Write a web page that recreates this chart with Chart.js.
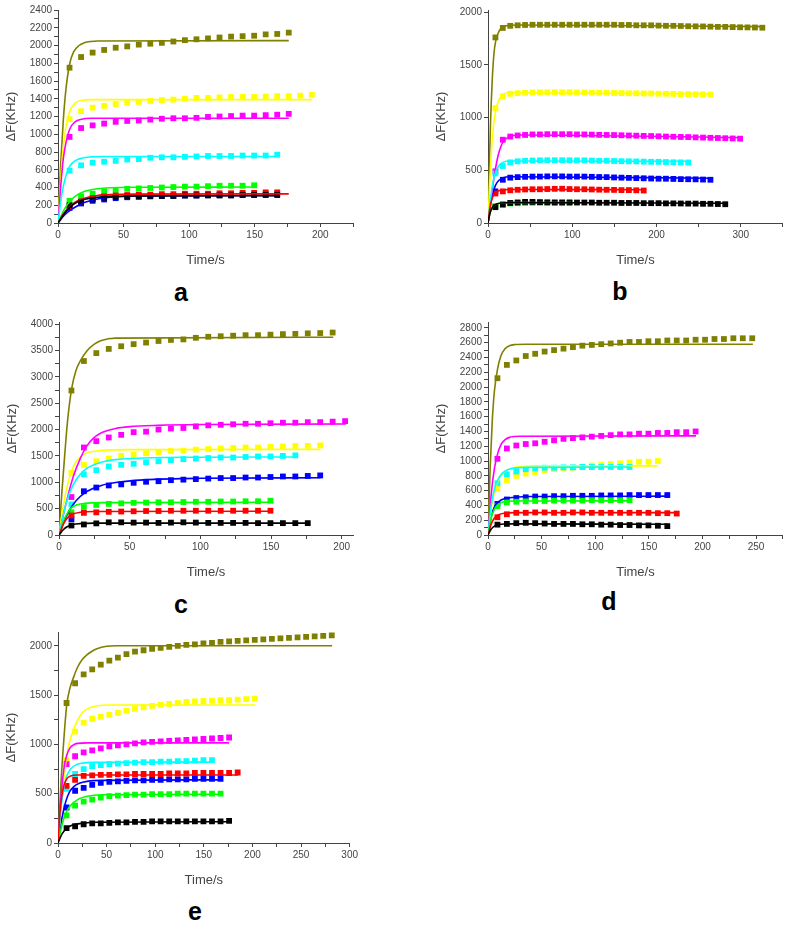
<!DOCTYPE html>
<html><head><meta charset="utf-8">
<script src="https://cdn.jsdelivr.net/npm/chart.js@4.4.1/dist/chart.umd.min.js"></script>
<style>
body{margin:0;background:#fff;width:787px;height:931px;position:relative;overflow:hidden;font-family:"Liberation Sans",Arial,sans-serif}
canvas{position:absolute}
.lbl{position:absolute;font:bold 25px "Liberation Sans",Arial,sans-serif;color:#000;transform:translate(-50%,-50%);line-height:1}
</style></head>
<body>
<canvas id="ca" width="363" height="266" style="left:0px;top:2px"></canvas>
<canvas id="cb" width="357" height="266" style="left:430px;top:2px"></canvas>
<canvas id="cc" width="362" height="266" style="left:1px;top:314px"></canvas>
<canvas id="cd" width="357" height="266" style="left:430px;top:314px"></canvas>
<canvas id="ce" width="360" height="264" style="left:0px;top:624px"></canvas>
<div class="lbl" style="left:181px;top:292px">a</div>
<div class="lbl" style="left:620px;top:291px">b</div>
<div class="lbl" style="left:181px;top:604px">c</div>
<div class="lbl" style="left:609px;top:601px">d</div>
<div class="lbl" style="left:195px;top:911px">e</div>
<script>
// sampling times (s) of measured points
const sampleTimes = [8.8,17.6,26.4,35.2,44,52.8,61.6,70.4,79.2,88,96.8,105.6,114.4,123.2,132,140.8,149.6,158.4,167.2,176,184.8,193.6,202.4,211.2,220,228.8,237.6,246.4,255.2,264,272.8,281.6,290.4,299.2,308,316.8,325.6];
const seriesColors = ['#000000','#ff0000','#00ff00','#00ffff','#ff00ff','#ffff00','#808000','#0000ff'];

// ---------- panel a ----------
const aBlack   = [200,240,265,285,295,300,300,305,305,305,310,310,310,310,310,315,315,315,315];
const aRed     = [190,240,280,300,310,315,320,320,325,325,330,330,330,335,335,340,340,345,345];
const aGreen   = [250,300,330,355,370,385,390,395,400,405,410,410,415,420,420,420,425];
const aCyan    = [590,650,680,690,700,715,720,735,740,740,745,750,755,755,755,760,760,760,770];
const aMagenta = [970,1070,1100,1120,1140,1150,1155,1165,1175,1180,1180,1185,1195,1200,1205,1210,1210,1215,1220,1230];
const aYellow  = [1170,1260,1300,1320,1340,1355,1365,1375,1385,1390,1400,1410,1410,1415,1420,1420,1420,1425,1430,1430,1435,1445];
const aOlive   = [1750,1870,1920,1950,1975,1990,2010,2020,2030,2045,2060,2070,2080,2090,2100,2105,2110,2125,2130,2145];
const aBlue    = [170,220,250,265,280,290,295,300,305,305,310,310,315,315,320,320,320,325,325];
const aBlackFit   = [[0,0],[5,110],[10,190],[15,240],[20,265],[30,290],[40,300],[60,305],[167,308]];
const aRedFit     = [[0,0],[5,120],[10,200],[15,250],[20,280],[30,310],[40,320],[60,325],[176,328]];
const aGreenFit   = [[0,0],[5,160],[10,260],[15,320],[20,355],[30,385],[40,398],[60,403],[150,405]];
const aCyanFit    = [[0,0],[3,330],[6,530],[9,640],[13,700],[18,730],[25,745],[35,750],[167,750]];
const aMagentaFit = [[0,0],[2,400],[4,720],[6,900],[9,1060],[13,1140],[18,1170],[25,1180],[176,1180]];
const aYellowFit  = [[0,0],[2,480],[4,850],[6,1080],[9,1260],[13,1350],[18,1380],[25,1390],[194,1390]];
const aOliveFit   = [[0,0],[2,650],[4,1150],[6,1500],[9,1800],[12,1930],[16,2000],[20,2030],[25,2045],[30,2050],[176,2055]];
const aBlueFit    = [[0,0],[5,90],[10,150],[15,195],[20,230],[30,270],[40,290],[60,305],[167,310]];

// ---------- panel b ----------
const bBlack   = [150,175,190,195,200,200,198,196,195,195,195,194,194,194,192,192,192,190,190,190,188,188,188,186,186,185,184,184,182,182,180,178];
const bRed     = [280,300,310,315,318,320,320,322,324,325,322,320,320,318,316,315,314,312,312,310,308];
const bGreen   = [160,175,185,188,190,192,192,192,192,192,192];
const bCyan    = [470,540,575,585,590,592,594,595,595,595,595,594,594,592,590,590,588,586,585,584,582,580,580,578,576,575,574];
const bMagenta = [490,790,820,830,835,840,840,842,842,842,842,840,840,838,836,835,834,832,830,828,826,825,822,820,818,816,815,812,810,808,806,804,802,800];
const bYellow  = [1090,1200,1225,1232,1235,1238,1240,1240,1240,1240,1240,1238,1238,1236,1235,1235,1233,1232,1230,1230,1228,1228,1226,1225,1224,1222,1222,1220,1220,1218];
const bOlive   = [1760,1850,1870,1875,1878,1880,1880,1880,1880,1880,1880,1880,1880,1880,1880,1880,1880,1878,1878,1875,1875,1875,1872,1870,1870,1868,1866,1865,1864,1862,1860,1860,1858,1856,1855,1854,1852];
const bBlue    = [300,410,430,435,438,440,440,442,442,442,440,440,440,438,436,435,432,430,428,426,424,422,420,420,418,416,415,414,412,410];
const bBlackFit   = [[0,0],[2,80],[4,130],[7,165],[11,182],[16,190],[25,193],[282,188]];
const bRedFit     = [[0,0],[2,130],[4,210],[7,270],[11,300],[16,312],[25,318],[187,315]];
const bGreenFit   = [[0,0],[2,80],[4,130],[7,165],[11,182],[16,190],[25,193],[99,195]];
const bCyanFit    = [[0,0],[3,230],[6,390],[9,480],[13,545],[18,575],[25,588],[240,585]];
const bMagentaFit = [[0,0],[4,250],[8,470],[12,640],[16,740],[20,790],[28,825],[40,835],[299,810]];
const bYellowFit  = [[0,0],[2,380],[4,680],[6,880],[9,1060],[13,1170],[18,1220],[25,1235],[266,1225]];
const bOliveFit   = [[0,0],[1.5,500],[3,950],[5,1350],[7,1600],[9,1720],[12,1800],[16,1850],[22,1870],[35,1878],[328,1862]];
const bBlueFit    = [[0,0],[3,170],[6,290],[9,360],[13,405],[18,428],[25,438],[266,425]];

// ---------- panel c ----------
const cBlack   = [180,200,220,240,240,235,235,230,235,240,235,230,230,230,230,225,225,225,225,225];
const cRed     = [370,420,430,440,445,450,455,455,460,460,460,460,460,460,460,460,460];
const cGreen   = [430,530,570,590,600,610,615,620,620,625,630,630,635,635,640,640,650];
const cCyan    = [580,1150,1230,1300,1330,1350,1380,1400,1420,1440,1450,1460,1470,1470,1480,1490,1490,1500,1510];
const cMagenta = [720,1660,1780,1850,1900,1950,1960,2000,2020,2030,2060,2080,2090,2100,2110,2110,2120,2130,2130,2140,2140,2150,2160];
const cYellow  = [1180,1330,1400,1450,1500,1520,1550,1570,1590,1600,1620,1630,1640,1650,1660,1660,1670,1680,1690,1690,1700];
const cOlive   = [2740,3300,3450,3530,3580,3620,3650,3680,3700,3710,3740,3760,3770,3780,3790,3790,3800,3810,3815,3825,3830,3840];
const cBlue    = [300,830,900,940,960,990,1010,1020,1040,1050,1060,1070,1080,1080,1090,1090,1100,1110,1110,1120,1130];
const cBlackFit   = [[0,0],[3,100],[6,160],[10,200],[15,215],[25,225],[176,225]];
const cRedFit     = [[0,0],[3,200],[6,330],[10,400],[15,430],[25,445],[150,450]];
const cGreenFit   = [[0,0],[3,250],[6,420],[9,520],[13,575],[18,600],[30,615],[150,620]];
const cCyanFit    = [[0,0],[5,600],[10,950],[15,1150],[20,1270],[30,1380],[40,1430],[60,1460],[100,1475],[168,1480]];
const cMagentaFit = [[0,0],[5,600],[10,1100],[15,1450],[20,1700],[25,1850],[30,1940],[40,2020],[50,2055],[70,2080],[100,2095],[203,2105]];
const cYellowFit  = [[0,0],[3,550],[6,950],[9,1220],[12,1390],[16,1500],[20,1560],[30,1605],[50,1620],[185,1625]];
const cOliveFit   = [[0,0],[2,800],[4,1500],[6,2150],[9,2780],[12,3120],[15,3300],[20,3500],[25,3620],[30,3690],[40,3735],[194,3750]];
const cBlueFit    = [[0,0],[5,350],[10,580],[15,730],[20,830],[30,940],[40,995],[60,1045],[100,1075],[185,1085]];

// ---------- panel d ----------
const dBlack   = [140,150,160,165,160,155,150,150,150,145,145,140,140,135,135,130,130,125,120];
const dRed     = [240,280,300,300,305,305,300,300,305,305,300,300,300,300,300,300,300,295,295,290];
const dGreen   = [390,440,450,455,460,460,465,465,465,465,470,470,470,470,470];
const dCyan    = [700,820,860,890,900,910,910,915,915,920,920,920,920,920,920];
const dMagenta = [1030,1170,1210,1230,1240,1260,1280,1300,1310,1320,1330,1340,1350,1360,1360,1370,1370,1380,1380,1390,1390,1400];
const dYellow  = [630,740,800,830,850,870,890,900,910,920,940,950,960,970,980,990,990,1000];
const dOlive   = [2120,2300,2360,2420,2450,2480,2500,2520,2540,2560,2570,2580,2590,2600,2610,2610,2620,2620,2630,2630,2630,2640,2640,2650,2650,2660,2660,2660];
const dBlue    = [420,480,500,510,520,520,525,525,530,530,530,535,535,535,540,540,540,540,540];
const dBlackFit   = [[0,0],[3,80],[6,120],[10,140],[15,148],[25,150],[167,145]];
const dRedFit     = [[0,0],[3,150],[6,230],[10,275],[15,295],[25,302],[176,302]];
const dGreenFit   = [[0,0],[3,230],[6,350],[10,420],[15,450],[25,460],[132,462]];
const dCyanFit    = [[0,0],[3,400],[6,620],[9,740],[13,830],[18,880],[25,905],[40,915],[132,920]];
const dMagentaFit = [[0,0],[3,550],[6,900],[9,1100],[12,1220],[16,1290],[20,1320],[30,1335],[194,1340]];
const dYellowFit  = [[0,0],[4,450],[8,680],[12,800],[18,880],[25,915],[35,930],[60,935],[158,935]];
const dOliveFit   = [[0,0],[2,900],[4,1550],[6,1950],[9,2250],[12,2420],[16,2520],[20,2560],[25,2575],[35,2580],[247,2580]];
const dBlueFit    = [[0,0],[3,250],[6,380],[10,450],[15,490],[25,510],[40,520],[167,525]];

// ---------- panel e ----------
const eBlack   = [150,170,190,200,200,205,210,210,215,215,220,220,220,220,220,220,220,220,220,225];
const eRed     = [580,640,680,685,690,690,695,695,700,700,700,700,705,705,705,710,710,710,710,710,715];
const eGreen   = [280,380,420,440,460,475,480,485,490,490,495,495,495,500,500,500,500,500,500];
const eCyan    = [550,700,750,780,790,800,805,810,815,820,820,825,825,830,830,835,840,840];
const eMagenta = [800,880,920,940,960,980,990,1000,1010,1020,1025,1030,1035,1040,1045,1050,1055,1060,1065,1070];
const eYellow  = [840,1130,1220,1260,1280,1300,1320,1340,1360,1375,1390,1400,1410,1420,1430,1435,1440,1445,1450,1450,1455,1460,1465];
const eOlive   = [1420,1620,1710,1760,1810,1850,1880,1915,1940,1955,1970,1980,1990,2000,2010,2015,2025,2030,2040,2045,2050,2055,2060,2065,2070,2075,2080,2085,2090,2095,2100,2105];
const eBlue    = [360,530,560,590,610,620,625,630,635,635,640,640,645,645,645,650,650,650,650];
const eBlackFit   = [[0,0],[4,90],[8,140],[12,170],[18,190],[25,200],[40,210],[176,215]];
const eRedFit     = [[0,0],[2,300],[4,480],[6,580],[9,650],[13,680],[20,690],[185,690]];
const eGreenFit   = [[0,0],[4,180],[8,300],[12,370],[16,410],[22,450],[30,475],[45,490],[167,495]];
const eCyanFit    = [[0,0],[3,350],[6,560],[9,680],[13,750],[18,790],[25,810],[35,818],[158,820]];
const eMagentaFit = [[0,0],[3,450],[6,750],[9,890],[12,960],[16,995],[20,1010],[30,1015],[176,1015]];
const eYellowFit  = [[0,0],[3,350],[6,650],[9,880],[12,1030],[16,1150],[20,1240],[25,1320],[30,1360],[40,1390],[55,1400],[203,1400]];
const eOliveFit   = [[0,0],[3,600],[6,1050],[9,1400],[12,1560],[16,1680],[20,1780],[25,1860],[30,1910],[35,1945],[40,1970],[50,1995],[60,2000],[282,2000]];
const eBlueFit    = [[0,0],[4,250],[8,420],[12,520],[16,570],[22,605],[30,625],[45,635],[167,640]];

const axisTitleX = 'Time/s';
const axisTitleY = 'ΔF(KHz)';

Chart.defaults.font.family = '"Liberation Sans", Arial, sans-serif';
Chart.defaults.color = '#444';

function makeTicks(max, step) {
  const out = [];
  for (let v = 0; v <= max + 1e-9; v += step) out.push({value: Math.round(v * 1000) / 1000});
  return out;
}

function makePanel(id, values, fits, o) {
  const datasets = [];
  fits.forEach((f, i) => datasets.push({
    data: f.map(p => ({x: p[0], y: p[1]})),
    showLine: true, pointRadius: 0, borderColor: seriesColors[i], borderWidth: 1.6,
    cubicInterpolationMode: 'monotone', fill: false
  }));
  values.forEach((vals, i) => datasets.push({
    data: vals.map((v, k) => ({x: sampleTimes[k], y: v})),
    showLine: false, pointStyle: 'rect', pointRadius: 4.1,
    backgroundColor: seriesColors[i], borderColor: seriesColors[i], borderWidth: 0
  }));
  const tickFont = {size: 10};
  new Chart(document.getElementById(id), {
    type: 'scatter',
    data: {datasets},
    options: {
      responsive: false, animation: false, devicePixelRatio: 1,
      layout: {padding: {top: 6, right: o.padRight, left: 0, bottom: 0}},
      plugins: {legend: {display: false}, tooltip: {enabled: false}},
      scales: {
        x: {
          type: 'linear', min: 0, max: o.xMax,
          afterFit: s => { s.height = 45; },
          afterBuildTicks: s => { s.ticks = makeTicks(o.xMax, o.xMinor); },
          ticks: {autoSkip: false, maxRotation: 0, padding: 2, font: tickFont, color: '#444',
            callback: v => (Math.abs(v / o.xMajor - Math.round(v / o.xMajor)) < 1e-6 ? v : '')},
          grid: {display: true, drawOnChartArea: false, drawTicks: true, tickLength: 4, tickColor: '#444'},
          border: {display: true, color: '#444', width: 1},
          title: {display: true, text: axisTitleX, font: {size: 13}, color: '#444', padding: {top: 0, bottom: 0}}
        },
        y: {
          type: 'linear', min: 0, max: o.yMax,
          afterFit: s => { s.width = 58; },
          afterBuildTicks: s => { s.ticks = makeTicks(o.yMax, o.yMinor); },
          ticks: {autoSkip: false, padding: 2, font: tickFont, color: '#444',
            callback: v => (Math.abs(v / o.yMajor - Math.round(v / o.yMajor)) < 1e-6 ? v : '')},
          grid: {display: true, drawOnChartArea: false, drawTicks: true, tickLength: 4, tickColor: '#444'},
          border: {display: true, color: '#444', width: 1},
          title: {display: true, text: axisTitleY, font: {size: 13}, color: '#444', padding: {top: 4, bottom: 0}}
        }
      }
    }
  });
}

makePanel('ca', [aBlack,aRed,aGreen,aCyan,aMagenta,aYellow,aOlive,aBlue],
  [aBlackFit,aRedFit,aGreenFit,aCyanFit,aMagentaFit,aYellowFit,aOliveFit,aBlueFit],
  {xMax: 225, xMajor: 50, xMinor: 25, yMax: 2400, yMajor: 200, yMinor: 100, padRight: 10});
makePanel('cb', [bBlack,bRed,bGreen,bCyan,bMagenta,bYellow,bOlive,bBlue],
  [bBlackFit,bRedFit,bGreenFit,bCyanFit,bMagentaFit,bYellowFit,bOliveFit,bBlueFit],
  {xMax: 350, xMajor: 100, xMinor: 50, yMax: 2020, yMajor: 500, yMinor: 500, padRight: 4});
makePanel('cc', [cBlack,cRed,cGreen,cCyan,cMagenta,cYellow,cOlive,cBlue],
  [cBlackFit,cRedFit,cGreenFit,cCyanFit,cMagentaFit,cYellowFit,cOliveFit,cBlueFit],
  {xMax: 208, xMajor: 50, xMinor: 25, yMax: 4040, yMajor: 500, yMinor: 250, padRight: 10});
makePanel('cd', [dBlack,dRed,dGreen,dCyan,dMagenta,dYellow,dOlive,dBlue],
  [dBlackFit,dRedFit,dGreenFit,dCyanFit,dMagentaFit,dYellowFit,dOliveFit,dBlueFit],
  {xMax: 275, xMajor: 50, xMinor: 25, yMax: 2880, yMajor: 200, yMinor: 100, padRight: 2});
makePanel('ce', [eBlack,eRed,eGreen,eCyan,eMagenta,eYellow,eOlive,eBlue],
  [eBlackFit,eRedFit,eGreenFit,eCyanFit,eMagentaFit,eYellowFit,eOliveFit,eBlueFit],
  {xMax: 300, xMajor: 50, xMinor: 25, yMax: 2140, yMajor: 500, yMinor: 250, padRight: 10});
</script>
</body></html>
